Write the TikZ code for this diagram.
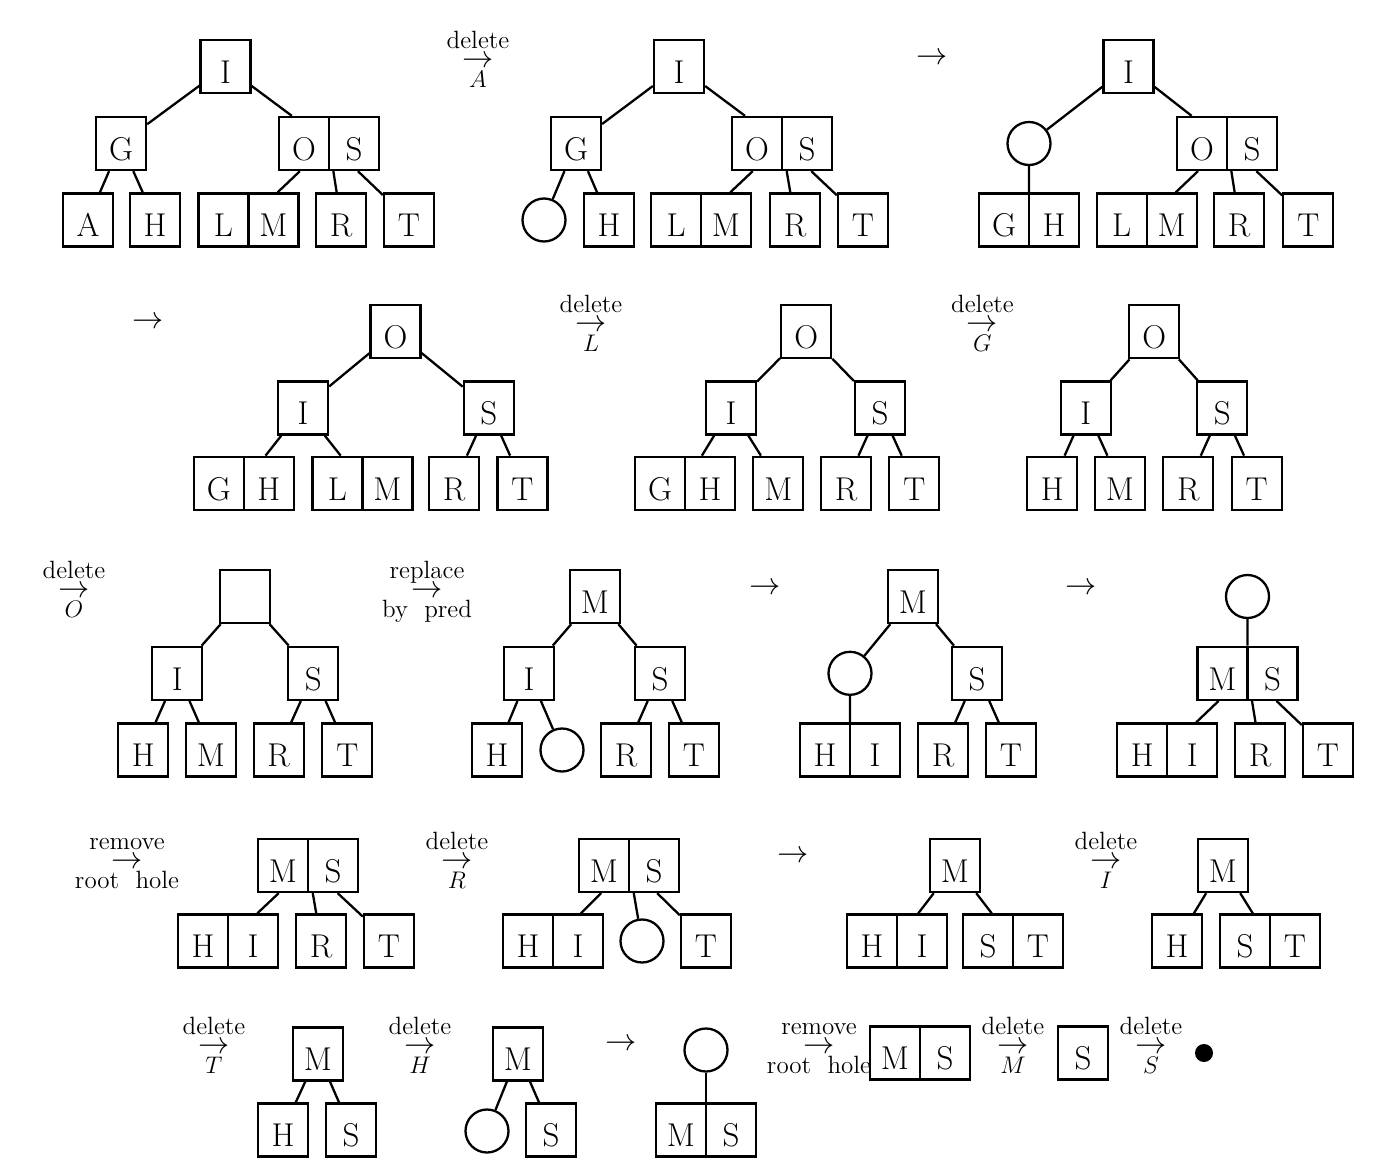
\documentclass[tikz,border=0pt]{standalone}
\newcommand\pq[2]{\makebox[25pt]{#1}\makebox[25pt]{#2}}
\newcommand\bigarr{\scalebox{1.3}{$\rightarrow$}}
\newcommand\stk[2]{\begin{tabular}[t]{@{}c@{}}#1\\[-5.5pt]\bigarr\\[-5pt]#2\end{tabular}}
\tikzset{
 bx/.style={draw, line width=1.15pt, minimum width=25pt, minimum height=26.5pt, inner sep=0pt, text height=16.8pt, text depth=0pt, font=\fontsize{16.5}{20}\selectfont},
 pr/.style={bx, minimum width=50pt},
 hole/.style={draw, circle, line width=1.15pt, minimum size=21.5pt, inner sep=0pt},
 ed/.style={line width=1.15pt},
 lab/.style={anchor=base, inner sep=0pt, font=\fontsize{12.5}{15}\selectfont},
 arr/.style={inner sep=0pt, font=\fontsize{12.5}{15}\selectfont},
}
\newcommand\divd[1]{\draw[ed] (#1.north) -- (#1.south);}
\begin{document}
\begin{tikzpicture}[x=0.5pt,y=-0.5pt]
\fill[white] (0,0) rectangle (1399,1173);
\useasboundingbox (0,0) rectangle (1399,1173);
% ---------------- Row 1
\node[bx] (aI) at (225.5,66.5) {I};
\node[bx] (aG) at (121,143.5) {G};
\node[pr] (aOS) at (329,143.5) {\pq{O}{S}};
\node[bx] (aA) at (88,220) {A};
\node[bx] (aH) at (155,220) {H};
\node[pr] (aLM) at (248.5,220) {\pq{L}{M}};
\node[bx] (aR) at (341,220) {R};
\node[bx] (aT) at (409,220) {T};
\divd{aOS}\divd{aLM}
\draw[ed] (aI)--(aG) (aI)--(aOS) (aG)--(aA) (aG)--(aH) (aOS)--(aLM) (aOS)--(aR) (aOS)--(aT);
\node[lab] (l1) at (478,48) {\stk{delete}{$A$}};
\node[bx] (bI) at (679,66.5) {I};
\node[bx] (bG) at (576,143.5) {G};
\node[pr] (bOS) at (782,143.5) {\pq{O}{S}};
\node[hole] (bh) at (544,220) {};
\node[bx] (bH) at (609,220) {H};
\node[pr] (bLM) at (701,220) {\pq{L}{M}};
\node[bx] (bR) at (795,220) {R};
\node[bx] (bT) at (863,220) {T};
\divd{bOS}\divd{bLM}
\draw[ed] (bI)--(bG) (bI)--(bOS) (bG)--(bh) (bG)--(bH) (bOS)--(bLM) (bOS)--(bR) (bOS)--(bT);
\node[arr] (l2) at (932,59) {\bigarr};
\node[bx] (cI) at (1128.5,66.5) {I};
\node[hole] (ch) at (1029,143.5) {};
\node[pr] (cOS) at (1227,143.5) {\pq{O}{S}};
\node[pr] (cGH) at (1029,220) {\pq{G}{H}};
\node[pr] (cLM) at (1146.7,220) {\pq{L}{M}};
\node[bx] (cR) at (1239,220) {R};
\node[bx] (cT) at (1308.3,220) {T};
\divd{cOS}\divd{cGH}\divd{cLM}
\draw[ed] (cI)--(ch) (cI)--(cOS) (ch)--(cGH) (cOS)--(cLM) (cOS)--(cR) (cOS)--(cT);
% ---------------- Row 2
\node[arr] (l3) at (148,323) {\bigarr};
\node[bx] (dO) at (395.5,331.7) {O};
\node[bx] (dI) at (303,408) {I};
\node[bx] (dS) at (488.8,408) {S};
\node[pr] (dGH) at (243.8,483.3) {\pq{G}{H}};
\node[pr] (dLM) at (362.5,483.3) {\pq{L}{M}};
\node[bx] (dR) at (454.2,483.3) {R};
\node[bx] (dT) at (522.5,483.3) {T};
\divd{dGH}\divd{dLM}
\draw[ed] (dO)--(dI) (dO)--(dS) (dI)--(dGH) (dI)--(dLM) (dS)--(dR) (dS)--(dT);
\node[lab] (l4) at (591,312) {\stk{delete}{$L$}};
\node[bx] (eO) at (806.2,331.7) {O};
\node[bx] (eI) at (731,408) {I};
\node[bx] (eS) at (880,408) {S};
\node[pr] (eGH) at (685,483.3) {\pq{G}{H}};
\node[bx] (eM) at (778.3,483.3) {M};
\node[bx] (eR) at (846,483.3) {R};
\node[bx] (eT) at (914.3,483.3) {T};
\divd{eGH}
\draw[ed] (eO)--(eI) (eO)--(eS) (eI)--(eGH) (eI)--(eM) (eS)--(eR) (eS)--(eT);
\node[lab] (l5) at (982.5,312) {\stk{delete}{$G$}};
\node[bx] (fO) at (1154.3,331.7) {O};
\node[bx] (fI) at (1085.8,408) {I};
\node[bx] (fS) at (1222.3,408) {S};
\node[bx] (fH) at (1052.3,483.3) {H};
\node[bx] (fM) at (1120,483.3) {M};
\node[bx] (fR) at (1188.3,483.3) {R};
\node[bx] (fT) at (1256.7,483.3) {T};
\draw[ed] (fO)--(fI) (fO)--(fS) (fI)--(fH) (fI)--(fM) (fS)--(fR) (fS)--(fT);
% ---------------- Row 3
\node[lab] (l6) at (74,578) {\stk{delete}{$O$}};
\node[bx] (gE) at (245,596.5) {};
\node[bx] (gI) at (177.3,673.3) {I};
\node[bx] (gS) at (313.3,673.3) {S};
\node[bx] (gH) at (143.3,750) {H};
\node[bx] (gM) at (211,750) {M};
\node[bx] (gR) at (278.7,750) {R};
\node[bx] (gT) at (347.3,750) {T};
\draw[ed] (gE)--(gI) (gE)--(gS) (gI)--(gH) (gI)--(gM) (gS)--(gR) (gS)--(gT);
\node[lab] (l7) at (427,578) {\stk{replace}{by\ \ pred}};
\node[bx] (hM) at (595,596.5) {M};
\node[bx] (hI) at (529,673.3) {I};
\node[bx] (hS) at (660,673.3) {S};
\node[bx] (hH) at (497,750) {H};
\node[hole] (hh) at (562,750) {};
\node[bx] (hR) at (626,750) {R};
\node[bx] (hT) at (694,750) {T};
\draw[ed] (hM)--(hI) (hM)--(hS) (hI)--(hH) (hI)--(hh) (hS)--(hR) (hS)--(hT);
\node[arr] (l8) at (765,589) {\bigarr};
\node[bx] (iM) at (913,596.5) {M};
\node[hole] (ih) at (850,673.3) {};
\node[bx] (iS) at (977,673.3) {S};
\node[pr] (iHI) at (850,750) {\pq{H}{I}};
\node[bx] (iR) at (943,750) {R};
\node[bx] (iT) at (1011,750) {T};
\divd{iHI}
\draw[ed] (iM)--(ih) (iM)--(iS) (ih)--(iHI) (iS)--(iR) (iS)--(iT);
\node[arr] (l9) at (1081,589) {\bigarr};
\node[hole] (jh) at (1247.5,596.5) {};
\node[pr] (jMS) at (1247.5,673.3) {\pq{M}{S}};
\node[pr] (jHI) at (1167.3,750) {\pq{H}{I}};
\node[bx] (jR) at (1260,750) {R};
\node[bx] (jT) at (1328,750) {T};
\divd{jMS}\divd{jHI}
\draw[ed] (jh)--(jMS) (jMS)--(jHI) (jMS)--(jR) (jMS)--(jT);
% ---------------- Row 4
\node[lab] (l10) at (127,849) {\stk{remove}{root\ \ hole}};
\node[pr] (kMS) at (308,865.5) {\pq{M}{S}};
\node[pr] (kHI) at (228,941) {\pq{H}{I}};
\node[bx] (kR) at (321,941) {R};
\node[bx] (kT) at (389,941) {T};
\divd{kMS}\divd{kHI}
\draw[ed] (kMS)--(kHI) (kMS)--(kR) (kMS)--(kT);
\node[lab] (l11) at (457,849) {\stk{delete}{$R$}};
\node[pr] (mMS) at (629,865.5) {\pq{M}{S}};
\node[pr] (mHI) at (553,941) {\pq{H}{I}};
\node[hole] (mh) at (642,941) {};
\node[bx] (mT) at (706,941) {T};
\divd{mMS}\divd{mHI}
\draw[ed] (mMS)--(mHI) (mMS)--(mh) (mMS)--(mT);
\node[arr] (l12) at (793,857) {\bigarr};
\node[bx] (nM) at (955,865.5) {M};
\node[pr] (nHI) at (897,941) {\pq{H}{I}};
\node[pr] (nST) at (1013,941) {\pq{S}{T}};
\divd{nHI}\divd{nST}
\draw[ed] (nM)--(nHI) (nM)--(nST);
\node[lab] (l13) at (1106,849) {\stk{delete}{$I$}};
\node[bx] (oM) at (1223,865.5) {M};
\node[bx] (oH) at (1177,941) {H};
\node[pr] (oST) at (1270,941) {\pq{S}{T}};
\divd{oST}
\draw[ed] (oM)--(oH) (oM)--(oST);
% ---------------- Row 5
\node[lab] (l14) at (214,1034) {\stk{delete}{$T$}};
\node[bx] (pM) at (318,1054) {M};
\node[bx] (pH) at (283,1130) {H};
\node[bx] (pS) at (351,1130) {S};
\draw[ed] (pM)--(pH) (pM)--(pS);
\node[lab] (l15) at (420,1034) {\stk{delete}{$H$}};
\node[bx] (qM) at (518,1054) {M};
\node[hole] (qh) at (487,1131) {};
\node[bx] (qS) at (551,1130) {S};
\draw[ed] (qM)--(qh) (qM)--(qS);
\node[arr] (l16) at (621,1045) {\bigarr};
\node[hole] (rh) at (706,1050) {};
\node[pr] (rMS) at (706,1130) {\pq{M}{S}};
\divd{rMS}
\draw[ed] (rh)--(rMS);
\node[lab] (l17) at (819,1034) {\stk{remove}{root\ \ hole}};
\node[pr] (sMS) at (920,1053) {\pq{M}{S}};
\divd{sMS}
\node[lab] (l18) at (1013,1034) {\stk{delete}{$M$}};
\node[bx] (tS) at (1083,1053) {S};
\node[lab] (l19) at (1151,1034) {\stk{delete}{$S$}};
\node[fill, circle, minimum size=9pt, inner sep=0pt] (dot) at (1204,1053) {};
\end{tikzpicture}
\end{document}
